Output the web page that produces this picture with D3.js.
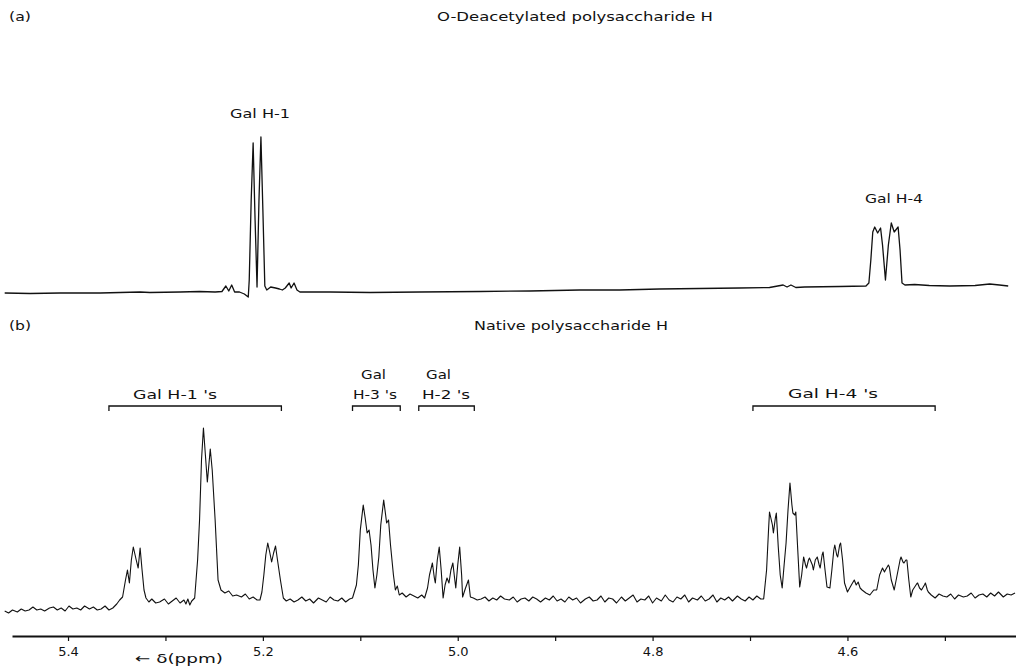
<html>

<head>
    <style>
        body { margin: 0; background: #fff; }
        text { font-family: "DejaVu Sans", sans-serif; fill: #111; }
    </style>
</head>

<body>
    <svg id="chart" width="1016" height="666"></svg>
</body>
<script src="https://d3js.org/d3.v7.min.js"></script>
<script>
    // (a) O-deacetylated spectrum: [ppm, intensity]
    const spectrumA = [
        [5.465, -1], [5.439, -1.5], [5.408, -1], [5.367, -1], [5.326, 0], [5.316, -0.5],
        [5.285, 0], [5.265, 0.5], [5.249, 0], [5.242, 0.5], [5.238, 6], [5.235, 1],
        [5.232, 7], [5.229, 0], [5.224, 0], [5.219, -2], [5.215, -5], [5.214, 12],
        [5.212, 92], [5.210, 149], [5.208, 72], [5.206, 5], [5.204, 92], [5.202, 155],
        [5.200, 82], [5.198, 6], [5.196, 2], [5.192, 5], [5.187, 4], [5.183, 3],
        [5.180, 2], [5.177, 4], [5.173, 9], [5.171, 4], [5.168, 9], [5.165, 2],
        [5.162, 0], [5.131, 0], [5.090, -0.5], [5.039, 0], [4.977, 0.5], [4.926, 1],
        [4.875, 2], [4.834, 2], [4.793, 3], [4.752, 3.5], [4.711, 4], [4.680, 4.5],
        [4.666, 7], [4.662, 5], [4.658, 7], [4.653, 4.5], [4.644, 5], [4.608, 5.5],
        [4.581, 6], [4.578, 9], [4.576, 32], [4.574, 60], [4.572, 65], [4.569, 59],
        [4.566, 64], [4.564, 47], [4.561, 12], [4.558, 47], [4.555, 69], [4.552, 60],
        [4.548, 65], [4.546, 42], [4.544, 9], [4.541, 7], [4.531, 7.5], [4.516, 6.5],
        [4.495, 6], [4.469, 6.5], [4.454, 8], [4.444, 7], [4.435, 6]
    ]

    // (b) native spectrum: [ppm, intensity]
    const spectrumB = [
        [5.465, 1], [5.461, -1], [5.457, 2], [5.452, 0], [5.448, 3], [5.444, 1], [5.440, 2],
        [5.436, 5], [5.432, 2], [5.428, 3], [5.424, 1], [5.419, 4], [5.415, 5], [5.411, 2],
        [5.407, 4], [5.403, 1], [5.399, 6], [5.395, 3], [5.391, 4], [5.387, 2], [5.383, 6],
        [5.378, 3], [5.374, 5], [5.370, 2], [5.366, 3], [5.362, 6], [5.358, 2], [5.354, 4],
        [5.350, 8], [5.347, 12], [5.344, 15], [5.341, 32], [5.339, 42], [5.337, 29],
        [5.335, 52], [5.333, 65], [5.330, 52], [5.328, 44], [5.326, 64], [5.324, 42],
        [5.322, 22], [5.320, 14], [5.317, 10], [5.314, 13], [5.310, 9], [5.306, 10],
        [5.301, 13], [5.297, 8], [5.293, 11], [5.289, 14], [5.285, 9], [5.281, 12],
        [5.279, 8], [5.277, 13], [5.275, 7], [5.273, 11], [5.270, 14], [5.267, 52],
        [5.265, 92], [5.263, 152], [5.261, 184], [5.259, 157], [5.257, 130], [5.255, 152],
        [5.254, 163], [5.252, 142], [5.249, 92], [5.247, 52], [5.246, 32], [5.243, 22],
        [5.239, 19], [5.235, 21], [5.231, 16], [5.227, 17], [5.222, 15], [5.218, 18],
        [5.214, 13], [5.210, 15], [5.206, 12], [5.203, 12], [5.201, 20], [5.199, 37],
        [5.197, 57], [5.195, 69], [5.193, 60], [5.191, 50], [5.189, 59], [5.187, 66],
        [5.185, 52], [5.182, 32], [5.179, 14], [5.176, 11], [5.172, 13], [5.168, 10],
        [5.164, 12], [5.160, 15], [5.156, 11], [5.152, 13], [5.148, 9], [5.143, 14],
        [5.139, 12], [5.135, 10], [5.131, 15], [5.127, 12], [5.123, 11], [5.119, 14],
        [5.115, 10], [5.111, 13], [5.108, 14], [5.104, 27], [5.102, 47], [5.100, 82],
        [5.097, 107], [5.095, 94], [5.093, 79], [5.091, 82], [5.089, 67], [5.087, 42],
        [5.085, 24], [5.083, 37], [5.081, 55], [5.079, 87], [5.076, 112], [5.074, 97],
        [5.073, 89], [5.071, 92], [5.069, 67], [5.066, 37], [5.064, 22], [5.062, 26],
        [5.060, 17], [5.057, 19], [5.053, 15], [5.049, 18], [5.045, 16], [5.041, 14],
        [5.037, 17], [5.034, 14], [5.031, 24], [5.029, 37], [5.026, 49], [5.024, 34],
        [5.023, 29], [5.021, 52], [5.019, 65], [5.017, 42], [5.015, 14], [5.013, 27],
        [5.011, 34], [5.009, 29], [5.007, 42], [5.005, 49], [5.003, 32], [5.002, 24],
        [5.000, 47], [4.998, 65], [4.996, 37], [4.995, 15], [4.992, 24], [4.989, 32],
        [4.987, 15], [4.984, 14], [4.980, 12], [4.976, 13], [4.972, 15], [4.968, 11],
        [4.964, 14], [4.960, 12], [4.956, 16], [4.952, 13], [4.947, 12], [4.943, 15],
        [4.939, 10], [4.935, 13], [4.931, 14], [4.927, 11], [4.923, 15], [4.919, 13],
        [4.915, 10], [4.910, 14], [4.906, 12], [4.902, 16], [4.898, 11], [4.894, 13],
        [4.890, 10], [4.886, 15], [4.882, 12], [4.878, 14], [4.874, 9], [4.869, 13],
        [4.865, 15], [4.861, 11], [4.857, 12], [4.853, 16], [4.849, 10], [4.845, 14],
        [4.841, 13], [4.837, 9], [4.832, 15], [4.828, 11], [4.824, 14], [4.820, 17],
        [4.816, 10], [4.812, 13], [4.808, 12], [4.804, 16], [4.800, 9], [4.796, 14],
        [4.791, 11], [4.787, 17], [4.783, 12], [4.779, 10], [4.775, 15], [4.771, 13],
        [4.767, 17], [4.763, 10], [4.759, 14], [4.754, 12], [4.750, 16], [4.746, 11],
        [4.742, 13], [4.738, 17], [4.734, 10], [4.730, 14], [4.726, 12], [4.722, 15],
        [4.718, 11], [4.713, 16], [4.709, 13], [4.705, 11], [4.701, 15], [4.697, 12],
        [4.693, 16], [4.689, 13], [4.686, 13], [4.683, 42], [4.681, 82], [4.680, 100],
        [4.677, 87], [4.676, 79], [4.674, 94], [4.673, 99], [4.671, 65], [4.669, 37],
        [4.667, 24], [4.665, 47], [4.663, 69], [4.661, 102], [4.659, 129], [4.657, 107],
        [4.656, 99], [4.654, 97], [4.653, 100], [4.651, 62], [4.649, 25], [4.647, 37],
        [4.645, 55], [4.643, 47], [4.642, 44], [4.640, 52], [4.639, 54], [4.636, 47],
        [4.635, 42], [4.633, 52], [4.631, 55], [4.629, 47], [4.628, 44], [4.626, 57],
        [4.625, 60], [4.623, 42], [4.621, 25], [4.618, 24], [4.616, 42], [4.614, 62],
        [4.613, 67], [4.611, 57], [4.610, 55], [4.608, 67], [4.607, 69], [4.605, 52],
        [4.603, 29], [4.600, 20], [4.596, 27], [4.593, 32], [4.591, 27], [4.589, 30],
        [4.587, 24], [4.585, 22], [4.581, 19], [4.577, 17], [4.573, 22], [4.570, 22],
        [4.567, 37], [4.564, 44], [4.562, 40], [4.561, 42], [4.558, 47], [4.557, 45],
        [4.555, 32], [4.552, 22], [4.550, 32], [4.548, 42], [4.546, 52], [4.545, 55],
        [4.543, 50], [4.542, 49], [4.540, 52], [4.539, 52], [4.537, 32], [4.535, 15],
        [4.533, 22], [4.531, 25], [4.529, 28], [4.528, 29], [4.526, 24], [4.524, 22],
        [4.521, 27], [4.520, 29], [4.518, 22], [4.517, 20], [4.514, 17], [4.510, 14],
        [4.506, 18], [4.502, 16], [4.498, 15], [4.494, 18], [4.490, 13], [4.486, 17],
        [4.481, 15], [4.477, 16], [4.473, 19], [4.469, 14], [4.465, 17], [4.461, 18],
        [4.457, 15], [4.453, 19], [4.449, 16], [4.445, 20], [4.440, 15], [4.436, 18],
        [4.432, 17], [4.428, 19]
    ]

    // axis ticks
    const tickPpm = [5.4, 5.3, 5.2, 5.1, 5.0, 4.9, 4.8, 4.7, 4.6, 4.5]
    const tickLabels = ["5.4", "", "5.2", "", "5.0", "", "4.8", "", "4.6", ""]

    // assignment brackets in panel (b)
    const bracketFrom = [5.358, 5.108, 5.040, 4.697]
    const bracketTo = [5.181, 5.059, 4.983, 4.510]

    let svg = d3.select("#chart")

    let x = d3.scaleLinear()
        .domain([5.4575, 4.427])
        .range([12, 1016])

    let yA = d3.scaleLinear().domain([0, 155]).range([292, 137])
    let yB = d3.scaleLinear().domain([0, 184]).range([612, 428])

    let lineA = d3.line().x(d => x(d[0])).y(d => yA(d[1]))
    let lineB = d3.line().x(d => x(d[0])).y(d => yB(d[1]))

    svg.append("path")
        .attr("d", lineA(spectrumA))
        .attr("fill", "none")
        .attr("stroke", "#111")
        .attr("stroke-width", 1.3)
        .attr("stroke-linejoin", "round")

    svg.append("path")
        .attr("d", lineB(spectrumB))
        .attr("fill", "none")
        .attr("stroke", "#111")
        .attr("stroke-width", 1.1)
        .attr("stroke-linejoin", "round")

    // plotter-style lettering: start x, baseline y, stretched width
    function label(txt, x0, y0, len) {
        return svg.append("text")
            .attr("x", x0)
            .attr("y", y0)
            .attr("font-size", 13)
            .attr("textLength", len)
            .attr("lengthAdjust", "spacingAndGlyphs")
            .text(txt)
    }

    label("(a)", 9, 21, 22)
    label("O-Deacetylated  polysaccharide  H", 437, 21, 276)
    label("Gal  H-1", 230, 118, 60)
    label("Gal  H-4", 865, 203, 58)
    label("(b)", 9, 330, 22)
    label("Native  polysaccharide  H", 474, 330, 194)

    label("Gal  H-1 's", 133, 399, 84)
    label("Gal", 361, 379, 25)
    label("H-3 's", 353, 399, 44)
    label("Gal", 426, 379, 25)
    label("H-2 's", 422, 399, 48)
    label("Gal  H-4 's", 788, 398, 90)

    // brackets
    bracketFrom.forEach((f, i) => {
        let x1 = x(f), x2 = x(bracketTo[i])
        let yb = 406
        svg.append("path")
            .attr("d", `M${x1},${yb + 5}V${yb}H${x2}V${yb + 5}`)
            .attr("fill", "none")
            .attr("stroke", "#111")
            .attr("stroke-width", 1.3)
    })

    // ppm axis
    let xAxis = d3.axisBottom(x)
        .tickValues(tickPpm)
        .tickFormat((d, i) => tickLabels[i])
        .tickSize(5)
        .tickSizeOuter(0)
        .tickPadding(6)

    let axisG = svg.append("g")
        .attr("transform", "translate(0,636)")
        .call(xAxis)
    axisG.select(".domain").attr("stroke", "#111").attr("stroke-width", 1.8)
    axisG.selectAll(".tick line").attr("stroke", "#111").attr("stroke-width", 1.2)
    axisG.selectAll(".tick text")
        .attr("font-size", 13)
        .attr("font-family", "DejaVu Sans")
        .attr("fill", "#111")

    label("\u2190 \u03b4(ppm)", 135, 663, 88)
</script>

</html>
